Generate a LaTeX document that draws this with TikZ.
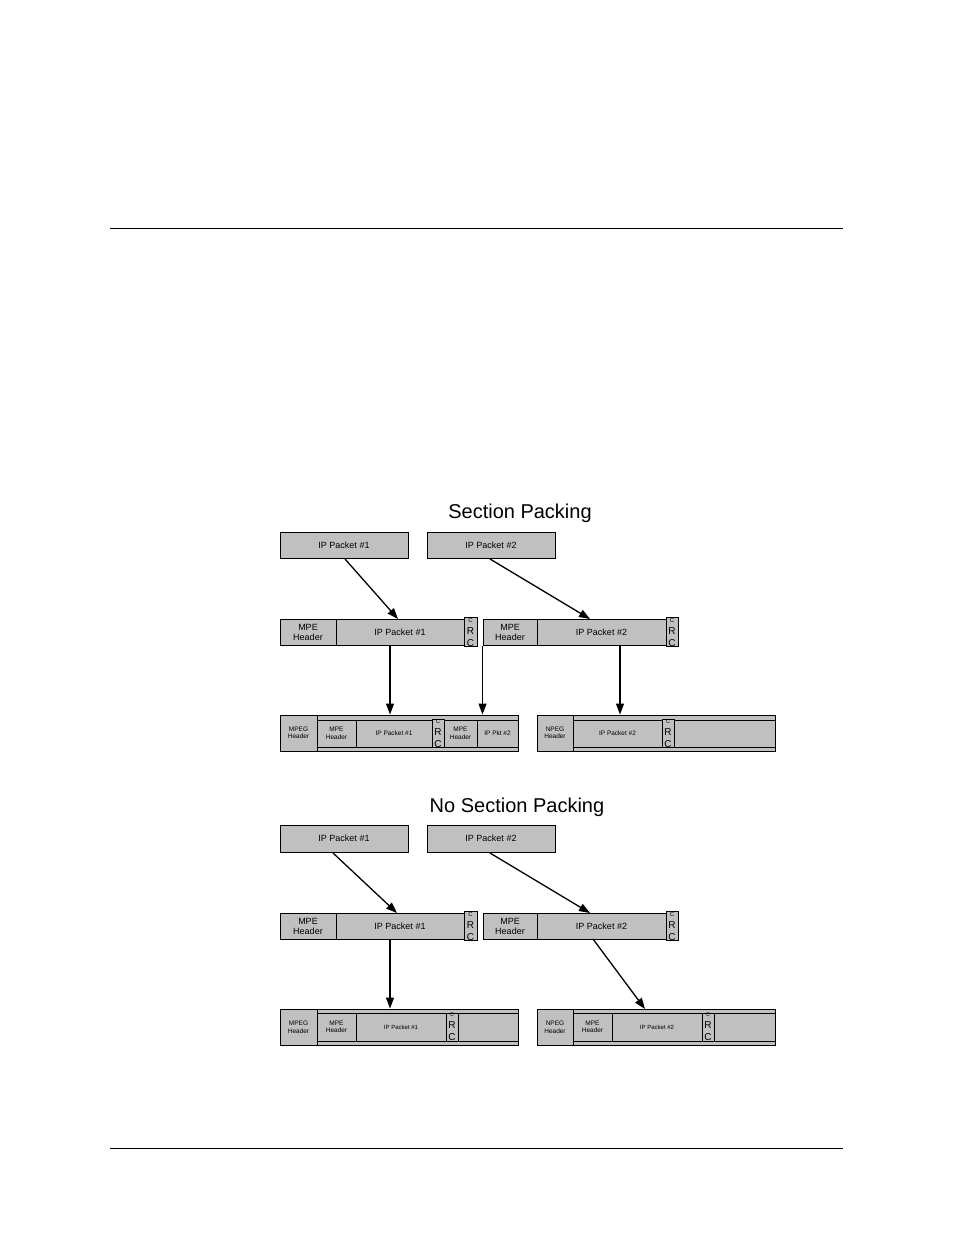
\documentclass[tikz,border=0pt]{standalone}
\usepackage{fontspec}
\setmainfont{Liberation Sans}
\usetikzlibrary{arrows.meta}
\definecolor{pk}{RGB}{192,192,192}
\newcommand{\bx}[7]{\node[draw,fill=pk,line width=1pt,inner sep=0pt,minimum width={#4-#2},minimum height={#5-#3},align=center,font=#7] (#1) at ({(#2+#4)/2},{(#3+#5)/2}) {#6};}
\newcommand{\crctxt}{\fontsize{6}{6}\selectfont C\\R\\C}
\newcommand{\crcsm}{\fontsize{5.5}{5.5}\selectfont C\\R\\C}
\tikzset{arr/.style={line width=1.3pt,-{Triangle[length=11pt,width=8pt]}}}
\begin{document}
\begin{tikzpicture}[x=1pt,y=-1pt]
\useasboundingbox (0,0) rectangle (954,1235);
\draw[line width=0.8pt] (110,228) -- (843,228);
\draw[line width=0.8pt] (110,1148) -- (843,1148);
\foreach \dy/\tt/\tx in {0/Section Packing/520, 294/No Section Packing/517}{
  \node[font=\fontsize{20}{22}\selectfont] at (\tx,513+\dy) {\tt};
}
% ---------- Section packing ----------
\bx{a1}{280}{532}{408}{558}{IP Packet \#1}{\fontsize{9}{10}\selectfont}
\bx{a2}{427}{532}{555}{558}{IP Packet \#2}{\fontsize{9}{10}\selectfont}
\bx{m1h}{280}{619}{336}{645}{MPE\\Header}{\fontsize{9}{10}\selectfont}
\bx{m1p}{336}{619}{464}{645}{IP Packet \#1}{\fontsize{9}{10}\selectfont}
\bx{m1c}{464}{619}{477}{645}{\crctxt}{}
\bx{m2h}{483}{619}{537}{645}{MPE\\Header}{\fontsize{9}{10}\selectfont}
\bx{m2p}{537}{619}{666}{645}{IP Packet \#2}{\fontsize{9}{10}\selectfont}
\bx{m2c}{666}{619}{678}{645}{\crctxt}{}
\bx{b1}{280}{715}{518}{751}{}{}
\bx{b1s}{317}{720}{518}{747}{}{}
\bx{b1g}{280}{715}{317}{751}{MPEG\\Header}{\fontsize{6.5}{7.5}\selectfont}
\bx{b1h}{317}{720}{356}{747}{MPE\\Header}{\fontsize{6.5}{7.5}\selectfont}
\bx{b1p}{356}{720}{432}{747}{IP Packet \#1}{\fontsize{6.5}{7.5}\selectfont}
\bx{b1c}{432}{720}{444}{747}{\crcsm}{}
\bx{b1h2}{444}{720}{477}{747}{MPE\\Header}{\fontsize{6.5}{7.5}\selectfont}
\bx{b1p2}{477}{720}{518}{747}{IP Pkt \#2}{\fontsize{6.5}{7.5}\selectfont}
\bx{b2}{537}{715}{775}{751}{}{}
\bx{b2s}{573}{720}{775}{747}{}{}
\bx{b2g}{537}{715}{573}{751}{NPEG\\Header}{\fontsize{6.5}{7.5}\selectfont}
\bx{b2p}{573}{720}{662}{747}{IP Packet \#2}{\fontsize{6.5}{7.5}\selectfont}
\bx{b2c}{662}{720}{674}{747}{\crcsm}{}
\coordinate (s1) at (345,559); \coordinate (t1) at (398,619);
\coordinate (s2) at (490,559); \coordinate (t2) at (590,619);
\draw[arr] (s1) -- (t1);
\draw[arr] (s2) -- (t2);
\draw[arr] (m1p.south -| 390,0) -- (b1.north -| 390,0);
\draw[arr] (m2h.south west) -- (b1.north -| m2h.west);
\draw[arr] (m2p.south -| 620,0) -- (b2.north -| 620,0);
% ---------- No section packing ----------
\bx{c1}{280}{825}{408}{852}{IP Packet \#1}{\fontsize{9}{10}\selectfont}
\bx{c2}{427}{825}{555}{852}{IP Packet \#2}{\fontsize{9}{10}\selectfont}
\bx{n1h}{280}{913}{336}{939}{MPE\\Header}{\fontsize{9}{10}\selectfont}
\bx{n1p}{336}{913}{464}{939}{IP Packet \#1}{\fontsize{9}{10}\selectfont}
\bx{n1c}{464}{913}{477}{939}{\crctxt}{}
\bx{n2h}{483}{913}{537}{939}{MPE\\Header}{\fontsize{9}{10}\selectfont}
\bx{n2p}{537}{913}{666}{939}{IP Packet \#2}{\fontsize{9}{10}\selectfont}
\bx{n2c}{666}{913}{678}{939}{\crctxt}{}
\bx{d1}{280}{1009}{518}{1045}{}{}
\bx{d1s}{317}{1013}{518}{1041}{}{}
\bx{d1g}{280}{1009}{317}{1045}{MPEG\\Header}{\fontsize{6.5}{7.5}\selectfont}
\bx{d1h}{317}{1013}{356}{1041}{MPE\\Header}{\fontsize{6.5}{7.5}\selectfont}
\bx{d1p}{356}{1013}{446}{1041}{IP Packet \#1}{\fontsize{6}{7}\selectfont}
\bx{d1c}{446}{1013}{458}{1041}{\crcsm}{}
\bx{d2}{537}{1009}{775}{1045}{}{}
\bx{d2s}{573}{1013}{775}{1041}{}{}
\bx{d2g}{537}{1009}{573}{1045}{NPEG\\Header}{\fontsize{6.5}{7.5}\selectfont}
\bx{d2h}{573}{1013}{612}{1041}{MPE\\Header}{\fontsize{6.5}{7.5}\selectfont}
\bx{d2p}{612}{1013}{702}{1041}{IP Packet \#2}{\fontsize{6}{7}\selectfont}
\bx{d2c}{702}{1013}{714}{1041}{\crcsm}{}
\coordinate (u1) at (333,853); \coordinate (v1) at (397,913);
\coordinate (u2) at (490,853); \coordinate (v2) at (590,913);
\draw[arr] (u1) -- (v1);
\draw[arr] (u2) -- (v2);
\draw[arr] (n1p.south -| 390,0) -- (d1.north -| 390,0);
\coordinate (w1) at (593,939); \coordinate (w2) at (645,1009);
\draw[arr] (w1) -- (w2);
\end{tikzpicture}
\end{document}
